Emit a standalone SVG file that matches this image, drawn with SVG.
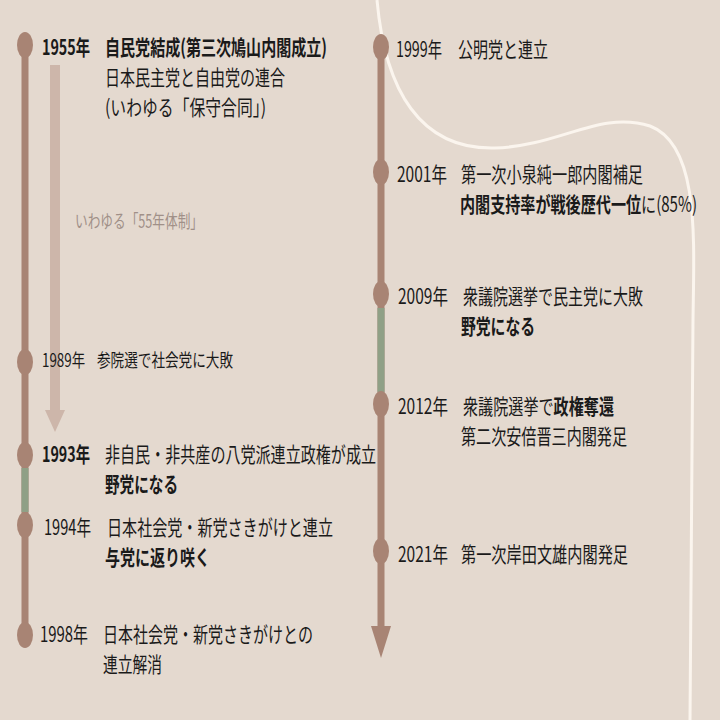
<svg xmlns="http://www.w3.org/2000/svg" width="720" height="720" viewBox="0 0 720 720">
<style>
text{font-family:"Noto Sans CJK JP","Liberation Sans",sans-serif;font-size:21px;fill:#1a1a1a}
.b{font-weight:bold}
.s{font-size:18px}
.g{fill:#a09088}
.ln{stroke:#a88474;stroke-width:7;fill:none}
.gr{stroke:#8fa086;stroke-width:7}
.nd{fill:#a88474}
</style>
<rect width="720" height="720" fill="#e4d9cf"/>
<path d="M377,0 C385,90 420,150 495,148 C560,146 600,110 650,126 C700,145 694,240 693,320 L690,720" fill="none" stroke="#fbf5ee" stroke-width="3"/>
<g id="connectors">
<line class="ln" x1="25" y1="35" x2="25" y2="645"/>
<line class="gr" x1="25" y1="468" x2="25" y2="512"/>
<line class="ln" x1="381" y1="40" x2="381" y2="628"/>
<line class="gr" x1="381" y1="308" x2="381" y2="392"/>
<polygon points="371,626 391,626 381,658" fill="#a88474"/>
<rect x="50" y="65" width="10" height="345" fill="#cdb6aa"/>
<polygon points="45,410 65,410 55,432" fill="#cdb6aa"/>
</g>
<g id="n1955"><ellipse class="nd" cx="25" cy="45" rx="8" ry="13"/>
<text class="b" x="42" y="55" textLength="48" lengthAdjust="spacingAndGlyphs">1955年</text>
<text class="b" x="105" y="55" textLength="222" lengthAdjust="spacingAndGlyphs">自民党結成(第三次鳩山内閣成立)</text>
<text x="105" y="85" textLength="180" lengthAdjust="spacingAndGlyphs">日本民主党と自由党の連合</text>
<text x="105" y="115" textLength="161" lengthAdjust="spacingAndGlyphs">(いわゆる「保守合同」)</text></g>
<g id="n55"><text class="g s" x="75" y="228" textLength="128" lengthAdjust="spacingAndGlyphs">いわゆる「55年体制」</text></g>
<g id="n1989"><ellipse class="nd" cx="25" cy="362" rx="8" ry="13"/>
<text class="s" x="42" y="367" textLength="43" lengthAdjust="spacingAndGlyphs">1989年</text>
<text class="s" x="97" y="367" textLength="136" lengthAdjust="spacingAndGlyphs">参院選で社会党に大敗</text></g>
<g id="n1993"><ellipse class="nd" cx="25" cy="455" rx="8" ry="13"/>
<text class="b" x="42" y="462" textLength="48" lengthAdjust="spacingAndGlyphs">1993年</text>
<text x="105" y="462" textLength="271" lengthAdjust="spacingAndGlyphs">非自民・非共産の八党派連立政権が成立</text>
<text class="b" x="105" y="492" textLength="73" lengthAdjust="spacingAndGlyphs">野党になる</text></g>
<g id="n1994"><ellipse class="nd" cx="25" cy="525" rx="8" ry="13"/>
<text x="44" y="535" textLength="47" lengthAdjust="spacingAndGlyphs">1994年</text>
<text x="107" y="535" textLength="226" lengthAdjust="spacingAndGlyphs">日本社会党・新党さきがけと連立</text>
<text class="b" x="105" y="565" textLength="105" lengthAdjust="spacingAndGlyphs">与党に返り咲く</text></g>
<g id="n1998"><ellipse class="nd" cx="25" cy="635" rx="8" ry="13"/>
<text x="40" y="642" textLength="48" lengthAdjust="spacingAndGlyphs">1998年</text>
<text x="103" y="642" textLength="210" lengthAdjust="spacingAndGlyphs">日本社会党・新党さきがけとの</text>
<text x="103" y="672" textLength="59" lengthAdjust="spacingAndGlyphs">連立解消</text></g>
<g id="n1999"><ellipse class="nd" cx="381" cy="47" rx="8" ry="13"/>
<text x="396" y="57" textLength="46" lengthAdjust="spacingAndGlyphs">1999年</text>
<text x="458" y="57" textLength="90" lengthAdjust="spacingAndGlyphs">公明党と連立</text></g>
<g id="n2001"><ellipse class="nd" cx="381" cy="172" rx="8" ry="13"/>
<text x="397" y="182" textLength="50" lengthAdjust="spacingAndGlyphs">2001年</text>
<text x="461" y="182" textLength="182" lengthAdjust="spacingAndGlyphs">第一次小泉純一郎内閣補足</text>
<text x="460" y="212" textLength="237" lengthAdjust="spacingAndGlyphs"><tspan class="b">内閣支持率が戦後歴代一位</tspan>に(85%)</text></g>
<g id="n2009"><ellipse class="nd" cx="381" cy="294" rx="8" ry="13"/>
<text x="398" y="304" textLength="50" lengthAdjust="spacingAndGlyphs">2009年</text>
<text x="463" y="304" textLength="180" lengthAdjust="spacingAndGlyphs">衆議院選挙で民主党に大敗</text>
<text class="b" x="461" y="334" textLength="74" lengthAdjust="spacingAndGlyphs">野党になる</text></g>
<g id="n2012"><ellipse class="nd" cx="381" cy="404" rx="8" ry="13"/>
<text x="398" y="414" textLength="50" lengthAdjust="spacingAndGlyphs">2012年</text>
<text x="463" y="414" textLength="151" lengthAdjust="spacingAndGlyphs">衆議院選挙で<tspan class="b">政権奪還</tspan></text>
<text x="461" y="444" textLength="166" lengthAdjust="spacingAndGlyphs">第二次安倍晋三内閣発足</text></g>
<g id="n2021"><ellipse class="nd" cx="381" cy="551" rx="8" ry="13"/>
<text x="398" y="562" textLength="50" lengthAdjust="spacingAndGlyphs">2021年</text>
<text x="461" y="562" textLength="167" lengthAdjust="spacingAndGlyphs">第一次岸田文雄内閣発足</text></g>
</svg>
